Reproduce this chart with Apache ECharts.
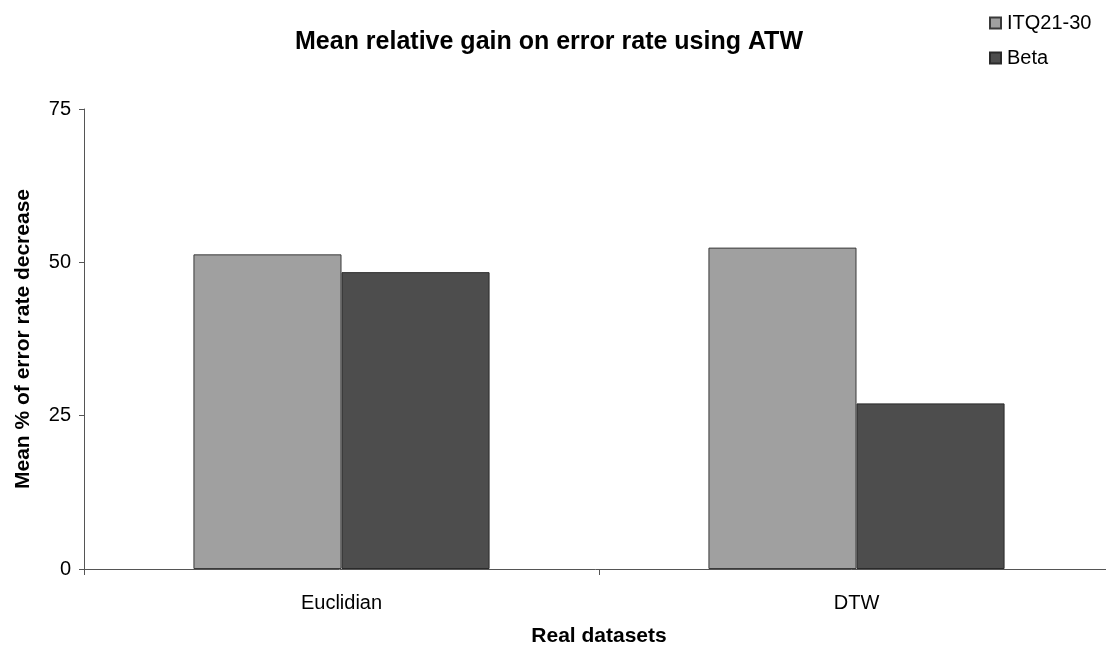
<!DOCTYPE html>
<html>
<head>
<meta charset="utf-8">
<script src="https://cdn.jsdelivr.net/npm/echarts@6/dist/echarts.min.js"></script>
<style>
  html, body { margin: 0; padding: 0; background: #fff; }
  #chart { width: 1106px; height: 646px; }
</style>
</head>
<body>
<div id="chart"></div>
<script>
// Data
const categories = ['Euclidian', 'DTW'];
const itqValues = [51.3, 52.4];
const betaValues = [48.4, 27.0];
const yTicks = [0, 25, 50, 75];

const FONT = '"Liberation Sans", Arial, sans-serif';

const chart = echarts.init(document.getElementById('chart'), null, { renderer: 'canvas' });

chart.setOption({
  animation: false,
  backgroundColor: '#ffffff',
  title: {
    text: 'Mean relative gain on error rate using ATW',
    left: 544,
    top: 25,
    textAlign: 'center',
    textStyle: { fontFamily: FONT, fontSize: 25, fontWeight: 'bold', color: '#000' }
  },
  legend: {
    orient: 'vertical',
    left: 984,
    top: 8,
    itemWidth: 11,
    itemHeight: 11,
    itemGap: 15,
    icon: 'rect',
    textStyle: { fontFamily: FONT, fontSize: 20, color: '#000', padding: [0, 0, 0, 1] },
    data: ['ITQ21-30', 'Beta']
  },
  grid: {
    left: 84,
    top: 109,
    width: 1030,
    height: 460,
    containLabel: false,
    outerBoundsMode: 'none'
  },
  xAxis: {
    type: 'category',
    data: categories,
    name: 'Real datasets',
    nameLocation: 'middle',
    nameGap: 57,
    nameTextStyle: { fontFamily: FONT, fontSize: 21, fontWeight: 'bold', color: '#000' },
    axisLine: { lineStyle: { color: '#555', width: 1 } },
    axisTick: { show: true, length: 6, alignWithLabel: false, lineStyle: { color: '#555' } },
    axisLabel: { fontFamily: FONT, fontSize: 20, color: '#000', margin: 24 },
    splitLine: { show: false }
  },
  yAxis: {
    type: 'value',
    min: yTicks[0],
    max: yTicks[yTicks.length - 1],
    interval: yTicks[1] - yTicks[0],
    name: 'Mean % of error rate decrease',
    nameLocation: 'middle',
    nameGap: 50,
    nameRotate: 90,
    nameTextStyle: { fontFamily: FONT, fontSize: 21, fontWeight: 'bold', color: '#000' },
    axisLine: { show: true, lineStyle: { color: '#555', width: 1 } },
    axisTick: { show: true, length: 5, lineStyle: { color: '#555' } },
    axisLabel: { fontFamily: FONT, fontSize: 20, color: '#000', margin: 13 },
    splitLine: { show: false }
  },
  series: [
    {
      name: 'ITQ21-30',
      type: 'bar',
      data: itqValues,
      barGap: '0%',
      barCategoryGap: '42.5%',
      itemStyle: { color: '#a0a0a0', borderColor: '#3a3a3a', borderWidth: 1 }
    },
    {
      name: 'Beta',
      type: 'bar',
      data: betaValues,
      barGap: '0%',
      barCategoryGap: '42.5%',
      itemStyle: { color: '#4d4d4d', borderColor: '#2a2a2a', borderWidth: 1 }
    }
  ]
});
</script>
</body>
</html>
